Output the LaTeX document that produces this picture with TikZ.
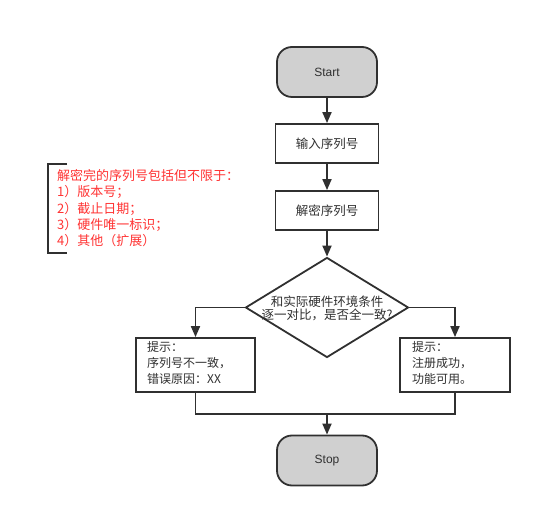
\documentclass[tikz,border=0pt]{standalone}
\usepackage{fontspec}
\setmainfont{Liberation Sans}
\newfontfamily\cjk{Noto Sans CJK SC}
\usetikzlibrary{arrows.meta,shapes.geometric}
\definecolor{ln}{HTML}{303030}
\definecolor{tg}{HTML}{D0D0D0}
\definecolor{rd}{HTML}{FF3333}
\tikzset{
  term/.style={draw=ln,line width=1.8pt,fill=tg,rounded corners=15pt,minimum width=100pt,minimum height=50pt,inner sep=0pt,font=\fontsize{12}{14}\selectfont,text=ln},
  proc/.style={draw=ln,line width=1.8pt,fill=white,minimum width=103pt,minimum height=39pt,inner sep=0pt,font=\cjk\fontsize{12.5}{14}\selectfont,text=ln},
  note/.style={draw=ln,line width=1.8pt,fill=white,minimum width=119pt,minimum height=54pt,inner sep=0pt,text=ln},
  notetext/.style={anchor=north west,inner sep=0pt,font=\cjk\fontsize{12}{16}\selectfont,text=ln,align=left},
  dec/.style={draw=ln,line width=1.8pt,fill=white,diamond,aspect=1.63,minimum width=163pt,minimum height=100pt,inner sep=0pt},
  dectext/.style={inner sep=0pt,font=\cjk\fontsize{12.5}{13.5}\selectfont,text=ln,align=center},
  flow/.style={draw=ln,line width=1.8pt,-{Triangle[length=11pt,width=9pt]}},
  seg/.style={draw=ln,line width=1.8pt}
}
\begin{document}
\begin{tikzpicture}[x=1pt,y=-1pt]
\useasboundingbox (0,0) rectangle (541,518);
\node[term] (start) at (327,72) {Start};
\node[proc] (in) at (327,143.5) {输入序列号};
\node[proc] (dec1) at (327,210.5) {解密序列号};
\node[dec] (cmp) at (327,307.5) {};
\node[dectext] (cmpt) at (327,308.5) {和实际硬件环境条件\\逐一对比，是否全一致?};
\node[note] (fail) at (195.5,365) {};
\node[note,minimum width=110pt] (ok) at (455,365) {};
\node[notetext] (failt) at (147,341.5) {提示：\\序列号不一致，\\错误原因：XX};
\node[notetext] (okt) at (412,341.5) {提示：\\注册成功，\\功能可用。};
\node[term] (stop) at (327,460.5) {Stop};
\draw[flow] (start) -- (in);
\draw[flow] (in) -- (dec1);
\draw[flow] (dec1) -- (cmp);
\draw[flow] (cmp.west) -| (fail.north);
\draw[flow] (cmp.east) -| (ok.north);
\coordinate (mj) at (327,414);
\draw[seg] (fail.south) |- (mj);
\draw[seg] (ok.south) |- (mj);
\draw[flow] (mj) -- (stop);
% annotation
\coordinate (b1) at (67,164);
\coordinate (b2) at (67,253);
\draw[seg,line width=2.2pt] (b1) -- (48,164) -- (48,253) -- (b2);
\node[anchor=north west,inner sep=0pt,font=\cjk\fontsize{13}{16.4}\selectfont,text=rd,align=left] (anno) at (57,169) {解密完的序列号包括但不限于：\\1）版本号；\\2）截止日期；\\3）硬件唯一标识；\\4）其他（扩展）};
\end{tikzpicture}
\end{document}
